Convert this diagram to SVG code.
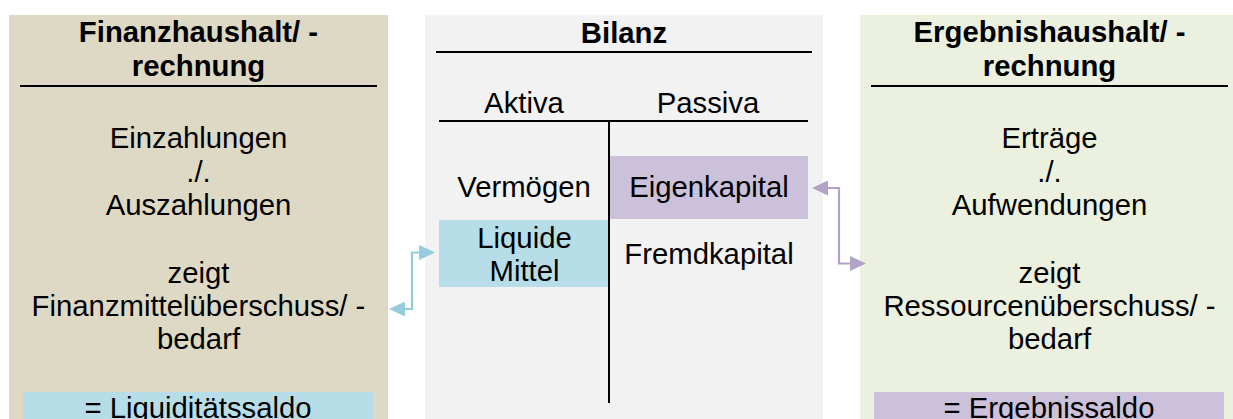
<svg xmlns="http://www.w3.org/2000/svg" width="1233" height="419" viewBox="0 0 1233 419">
<style>
text{font-family:"Liberation Sans",Arial,sans-serif;font-size:29.3px;fill:#000;text-anchor:middle}
.b{font-weight:bold}
.rule{stroke:#000;stroke-width:2;fill:none}
.conn{fill:none;stroke-width:2.2}
</style>
<defs>
<marker id="ab" viewBox="0 0 16 15" refX="0" refY="7.5" markerWidth="16" markerHeight="15" markerUnits="userSpaceOnUse" orient="auto-start-reverse"><path d="M0,0 L16,7.5 L0,15 Z" fill="#93CDDD"/></marker>
<marker id="ap" viewBox="0 0 16 15" refX="0" refY="7.5" markerWidth="16" markerHeight="15" markerUnits="userSpaceOnUse" orient="auto-start-reverse"><path d="M0,0 L16,7.5 L0,15 Z" fill="#B3A2C7"/></marker>
</defs>
<rect width="1233" height="419" fill="#fff"/>
<g id="finanzhaushalt">
<rect x="9" y="15" width="379" height="410" fill="#DDD9C4"/>
<text class="b" x="198.5" y="42">Finanzhaushalt/ -</text>
<text class="b" x="198.5" y="76">rechnung</text>
<line class="rule" x1="20" y1="86" x2="377" y2="86"/>
<text x="198.5" y="148">Einzahlungen</text>
<text x="198.5" y="182">./.</text>
<text x="198.5" y="215">Auszahlungen</text>
<text x="198.5" y="283">zeigt</text>
<text x="198.5" y="316">Finanzmittelüberschuss/ -</text>
<text x="198.5" y="349">bedarf</text>
<rect x="23" y="392" width="350" height="30" fill="#B7DEE8"/>
<text x="198" y="418">= Liquiditätssaldo</text>
</g>
<g id="bilanz">
<rect x="425" y="15" width="398" height="410" fill="#F2F2F2"/>
<text class="b" x="624" y="43">Bilanz</text>
<line class="rule" x1="436" y1="52" x2="812" y2="52"/>
<text x="524" y="113">Aktiva</text>
<text x="708" y="113">Passiva</text>
<line class="rule" x1="439" y1="121" x2="808" y2="121"/>
<line class="rule" x1="609" y1="121" x2="609" y2="403"/>
<text x="524" y="197">Vermögen</text>
<rect x="610" y="156" width="198" height="63" fill="#CCC1DA"/>
<text x="709" y="197">Eigenkapital</text>
<rect x="439" y="220" width="169" height="67" fill="#B7DEE8"/>
<text x="524.5" y="248">Liquide</text>
<text x="524.5" y="281">Mittel</text>
<text x="709" y="264">Fremdkapital</text>
</g>
<g id="ergebnishaushalt">
<rect x="860" y="15" width="379" height="410" fill="#EBF1DE"/>
<text class="b" x="1049.5" y="42">Ergebnishaushalt/ -</text>
<text class="b" x="1049.5" y="76">rechnung</text>
<line class="rule" x1="871" y1="86" x2="1228" y2="86"/>
<text x="1049.5" y="148">Erträge</text>
<text x="1049.5" y="182">./.</text>
<text x="1049.5" y="215">Aufwendungen</text>
<text x="1049.5" y="283">zeigt</text>
<text x="1049.5" y="316">Ressourcenüberschuss/ -</text>
<text x="1049.5" y="349">bedarf</text>
<rect x="874" y="392" width="350" height="30" fill="#CCC1DA"/>
<text x="1049" y="418">= Ergebnissaldo</text>
</g>
<g id="connectors">
<path class="conn" stroke="#93CDDD" d="M405,309 H412 V252.5 H419" marker-start="url(#ab)" marker-end="url(#ab)"/>
<path class="conn" stroke="#B3A2C7" d="M828,188 H839 V263.5 H850" marker-start="url(#ap)" marker-end="url(#ap)"/>
</g>
</svg>
